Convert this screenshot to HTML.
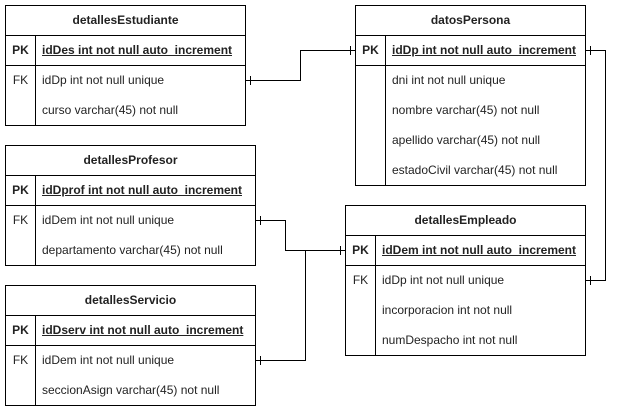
<!DOCTYPE html>
<html><head><style>
body{margin:0;background:#fff;width:621px;height:411px;position:relative;overflow:hidden;font-family:"Liberation Sans",Arial,sans-serif;font-size:12px;color:#222}
.t{position:absolute;border:1px solid #000;box-sizing:border-box;background:#fff}
.h{height:29px;line-height:29px;text-align:center;font-weight:bold;border-bottom:1px solid #000}
.pk{height:29px;border-bottom:1px solid #000;position:relative;font-weight:bold}
.pk span{text-decoration:underline}
.k{position:absolute;left:0;width:29px;top:0;bottom:0;border-right:1px solid #000;text-align:center;font-weight:normal}
.r{position:relative;padding-left:36px;height:30px;line-height:29px}
.pk .r{font-weight:bold;height:29px;line-height:29px}
.body{position:relative}
.body .k{line-height:29px}
.body .r{line-height:29px}
</style></head><body>
<svg width="621" height="411" style="position:absolute;left:0;top:0" fill="none" stroke="#000" stroke-width="1">
<path d="M245.5 80.5H300.5V50.5H355"/><path d="M250.5 76v9M350.5 46v9"/>
<path d="M255 220.5H285.5V250.5H345"/><path d="M260.5 216v9M340.5 246v9"/>
<path d="M255 360.5H305.5V250.5"/><path d="M260.5 356v9"/>
<path d="M585 50.5H605.5V280.5H585"/><path d="M590.5 46v9M590.5 276v9"/>
</svg>
<div class="t" style="left:5px;top:5px;width:241px;height:121px">
<div class="h">detallesEstudiante</div>
<div class="pk"><div class="k" style="line-height:29px;font-weight:bold">PK</div><div class="r"><span>idDes int not null auto_increment</span></div></div>
<div class="body"><div class="k">FK</div><div class="r">idDp int not null unique</div><div class="r">curso varchar(45) not null</div></div>
</div>
<div class="t" style="left:355px;top:5px;width:231px;height:181px">
<div class="h">datosPersona</div>
<div class="pk"><div class="k" style="line-height:29px;font-weight:bold">PK</div><div class="r"><span>idDp int not null auto_increment</span></div></div>
<div class="body"><div class="k" style="height:120px"></div><div class="r">dni int not null unique</div><div class="r">nombre varchar(45) not null</div><div class="r">apellido varchar(45) not null</div><div class="r">estadoCivil varchar(45) not null</div></div>
</div>
<div class="t" style="left:5px;top:145px;width:251px;height:121px">
<div class="h">detallesProfesor</div>
<div class="pk"><div class="k" style="line-height:29px;font-weight:bold">PK</div><div class="r"><span>idDprof int not null auto_increment</span></div></div>
<div class="body"><div class="k">FK</div><div class="r">idDem int not null unique</div><div class="r">departamento varchar(45) not null</div></div>
</div>
<div class="t" style="left:5px;top:285px;width:251px;height:121px">
<div class="h">detallesServicio</div>
<div class="pk"><div class="k" style="line-height:29px;font-weight:bold">PK</div><div class="r"><span>idDserv int not null auto_increment</span></div></div>
<div class="body"><div class="k">FK</div><div class="r">idDem int not null unique</div><div class="r">seccionAsign varchar(45) not null</div></div>
</div>
<div class="t" style="left:345px;top:205px;width:241px;height:151px">
<div class="h">detallesEmpleado</div>
<div class="pk"><div class="k" style="line-height:29px;font-weight:bold">PK</div><div class="r"><span>idDem int not null auto_increment</span></div></div>
<div class="body"><div class="k">FK</div><div class="r">idDp int not null unique</div><div class="r">incorporacion int not null</div><div class="r">numDespacho int not null</div></div>
</div>
</body></html>
